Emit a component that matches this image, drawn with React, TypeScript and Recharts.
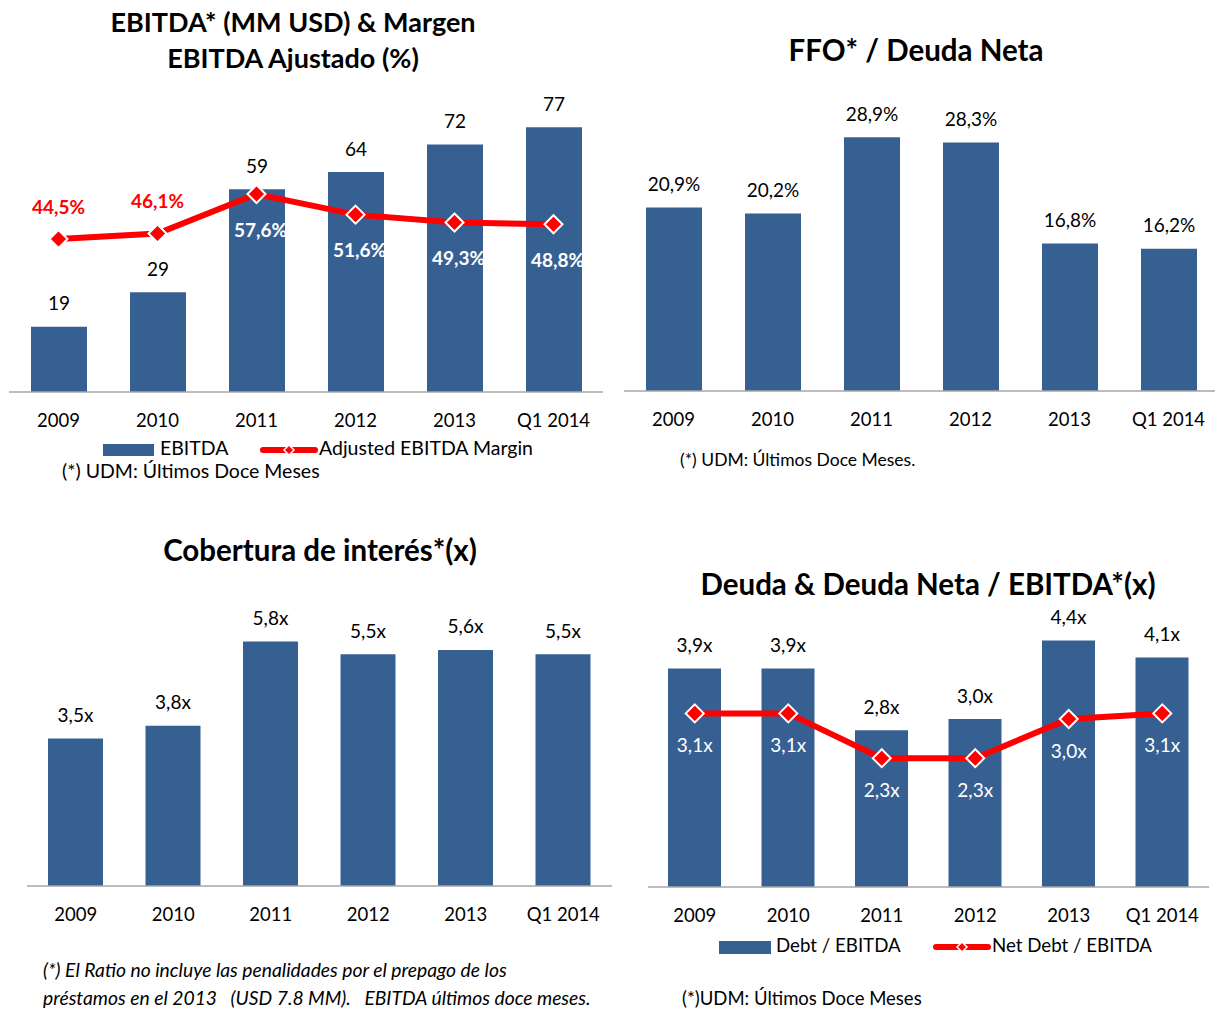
import React from 'react';
import { ComposedChart, Bar, Line, XAxis, YAxis, LabelList } from 'recharts';

const years = ['2009', '2010', '2011', '2012', '2013', 'Q1 2014'];
const ebitda = [19, 29, 59, 64, 72, 77];
const ebitdaMargin = [44.5, 46.1, 57.6, 51.6, 49.3, 48.8];
const ffoDebt = [20.9, 20.2, 28.9, 28.3, 16.8, 16.2];
const interestCoverage = [3.5, 3.8, 5.8, 5.5, 5.6, 5.5];
const debtEbitda = [3.9, 3.9, 2.8, 3.0, 4.4, 4.1];
const netDebtEbitda = [3.1, 3.1, 2.3, 2.3, 3.0, 3.1];

const BLUE = '#376092';
const RED = '#FF0000';
const FONT = 'Lato, "Open Sans", sans-serif';
const AXIS = '#A6A6A6';

const comma = (v: number) => v.toFixed(1).replace('.', ',');

const ebitdaData = years.map((y, i) => ({ year: y, ebitda: ebitda[i], margin: ebitdaMargin[i] }));
const ffoData = years.map((y, i) => ({ year: y, ffo: ffoDebt[i] }));
const coverageData = years.map((y, i) => ({ year: y, cov: interestCoverage[i] }));
const debtData = years.map((y, i) => ({ year: y, debt: debtEbitda[i], net: netDebtEbitda[i] }));

const tickStyle = { fontSize: 18.5, fill: '#000', fontFamily: FONT };

const Diamond = (props: any) => {
  const { cx, cy, index } = props;
  if (cx == null || cy == null) return <g key={index} />;
  const r = 9;
  return (
    <polygon
      key={index}
      points={`${cx},${cy - r} ${cx + r},${cy} ${cx},${cy + r} ${cx - r},${cy}`}
      fill={RED}
      stroke="#fff"
      strokeWidth={2}
    />
  );
};

// line label: above in red when the point sits over its bar, otherwise white inside the bar
const lineLabel = (bars: number[], fmt: (v: number) => string, bold: boolean, below: number, dx: number) => (props: any) => {
  const { x, y, value, index } = props;
  const over = value > bars[index];
  return (
    <text
      x={x + (over ? 0 : dx)}
      y={y + (over ? -33 : below)}
      textAnchor="middle"
      dominantBaseline="central"
      fontSize={19}
      fontWeight={bold ? 700 : 400}
      fontFamily={FONT}
      fill={over ? RED : '#fff'}
    >
      {fmt(value)}
    </text>
  );
};

const barLabel = (fmt: (v: number) => string) => (props: any) => {
  const { x, y, width, value } = props;
  return (
    <text
      x={x + width / 2}
      y={y - 24}
      textAnchor="middle"
      dominantBaseline="central"
      fontSize={19}
      fontFamily={FONT}
      fill="#000"
    >
      {fmt(value)}
    </text>
  );
};

const LineIcon = () => (
  <svg width={60} height={14} style={{ verticalAlign: 'middle' }}>
    <line x1={4} y1={7} x2={56} y2={7} stroke={RED} strokeWidth={6} strokeLinecap="round" />
    <polygon points="30,2 35,7 30,12 25,7" fill={RED} stroke="#fff" strokeWidth={1.5} />
  </svg>
);

const abs = (left: number, top: number): React.CSSProperties => ({ position: 'absolute', left, top });

const titleStyle: React.CSSProperties = {
  position: 'absolute',
  fontFamily: FONT,
  fontWeight: 700,
  fontSize: 29.5,
  color: '#000',
  textAlign: 'center',
  whiteSpace: 'nowrap',
  lineHeight: '36px',
  transform: 'translateX(-50%)',
};

const textStyle: React.CSSProperties = {
  position: 'absolute',
  fontFamily: FONT,
  fontSize: 19.5,
  color: '#000',
  whiteSpace: 'nowrap',
  lineHeight: '20px',
};

export default function App() {
  return (
    <div style={{ position: 'absolute', left: 0, top: 0, width: 1215, height: 1009, overflow: 'hidden', background: '#fff' }}>
      {/* EBITDA & margin */}
      <div style={{ ...titleStyle, left: 293, top: 4, fontSize: 27 }}>
        EBITDA* (MM USD) &amp; Margen
        <br />
        EBITDA Ajustado (%)
      </div>
      <div style={abs(0, 0)}>
        <ComposedChart width={612} height={450} data={ebitdaData} margin={{ top: 117, left: 9, right: 9, bottom: 28 }}>
          <XAxis dataKey="year" height={30} tickLine={false} tickMargin={16} axisLine={{ stroke: AXIS, strokeWidth: 1.5 }} tick={tickStyle} interval={0} />
          <YAxis hide domain={[0, 80]} />
          <Bar dataKey="ebitda" fill={BLUE} barSize={56} isAnimationActive={false}>
            <LabelList dataKey="ebitda" content={barLabel((v) => String(v))} />
          </Bar>
          <Line dataKey="margin" stroke={RED} strokeWidth={6} dot={Diamond} activeDot={false} isAnimationActive={false}>
            <LabelList dataKey="margin" content={lineLabel(ebitda, (v) => comma(v) + '%', true, 35, 4)} />
          </Line>
        </ComposedChart>
      </div>
      <div style={{ ...textStyle, left: 103, top: 438 }}>
        <span style={{ display: 'inline-block', width: 51, height: 12, background: BLUE, verticalAlign: 'middle', marginRight: 6 }} />
        EBITDA
      </div>
      <div style={{ ...textStyle, left: 259, top: 438 }}>
        <LineIcon />
        Adjusted EBITDA Margin
      </div>
      <div style={{ ...textStyle, left: 62, top: 461 }}>(*) UDM: Últimos Doce Meses</div>

      {/* FFO / Net debt */}
      <div style={{ ...titleStyle, left: 916, top: 32 }}>FFO* / Deuda Neta</div>
      <div style={abs(612, 0)}>
        <ComposedChart width={606} height={450} data={ffoData} margin={{ top: 110, left: 12, right: 0, bottom: 29 }}>
          <XAxis dataKey="year" height={30} tickLine={false} tickMargin={16} axisLine={{ stroke: AXIS, strokeWidth: 1.5 }} tick={tickStyle} interval={0} />
          <YAxis hide domain={[0, 32]} />
          <Bar dataKey="ffo" fill={BLUE} barSize={56} isAnimationActive={false}>
            <LabelList dataKey="ffo" content={barLabel((v) => comma(v) + '%')} />
          </Bar>
        </ComposedChart>
      </div>
      <div style={{ ...textStyle, left: 680, top: 450, fontSize: 17.5 }}>(*) UDM: Últimos Doce Meses.</div>

      {/* Interest coverage */}
      <div style={{ ...titleStyle, left: 320, top: 532 }}>Cobertura de interés*(x)</div>
      <div style={abs(0, 500)}>
        <ComposedChart width={620} height={430} data={coverageData} margin={{ top: 112, left: 27, right: 8, bottom: 14 }}>
          <XAxis dataKey="year" height={30} tickLine={false} tickMargin={16} axisLine={{ stroke: AXIS, strokeWidth: 1.5 }} tick={tickStyle} interval={0} />
          <YAxis hide domain={[0, 6.5]} />
          <Bar dataKey="cov" fill={BLUE} barSize={55} isAnimationActive={false}>
            <LabelList dataKey="cov" content={barLabel((v) => comma(v) + 'x')} />
          </Bar>
        </ComposedChart>
      </div>
      <div style={{ ...textStyle, left: 43, top: 960, fontSize: 19.3, fontStyle: 'italic' }}>
        (*) El Ratio no incluye las penalidades por el prepago de los
      </div>
      <div style={{ ...textStyle, left: 43, top: 988, fontSize: 19.3, fontStyle: 'italic' }}>
        préstamos en el 2013 &nbsp; (USD 7.8 MM). &nbsp; EBITDA últimos doce meses.
      </div>

      {/* Debt & net debt / EBITDA */}
      <div style={{ ...titleStyle, left: 928, top: 566 }}>Deuda &amp; Deuda Neta / EBITDA*(x)</div>
      <div style={abs(620, 500)}>
        <ComposedChart width={595} height={430} data={debtData} margin={{ top: 107, left: 28, right: 6, bottom: 13 }}>
          <XAxis dataKey="year" height={30} tickLine={false} tickMargin={16} axisLine={{ stroke: AXIS, strokeWidth: 1.5 }} tick={tickStyle} interval={0} />
          <YAxis hide domain={[0, 5]} />
          <Bar dataKey="debt" fill={BLUE} barSize={53} isAnimationActive={false}>
            <LabelList dataKey="debt" content={barLabel((v) => comma(v) + 'x')} />
          </Bar>
          <Line dataKey="net" stroke={RED} strokeWidth={6} dot={Diamond} activeDot={false} isAnimationActive={false}>
            <LabelList dataKey="net" content={lineLabel(debtEbitda, (v) => comma(v) + 'x', false, 31, 0)} />
          </Line>
        </ComposedChart>
      </div>
      <div style={{ ...textStyle, left: 719, top: 935, fontSize: 18.7 }}>
        <span style={{ display: 'inline-block', width: 52, height: 13, background: BLUE, verticalAlign: 'middle', marginRight: 5 }} />
        Debt / EBITDA
      </div>
      <div style={{ ...textStyle, left: 932, top: 935, fontSize: 18.7 }}>
        <LineIcon />
        Net Debt / EBITDA
      </div>
      <div style={{ ...textStyle, left: 682, top: 988, fontSize: 18.5 }}>(*)UDM: Últimos Doce Meses</div>
    </div>
  );
}
